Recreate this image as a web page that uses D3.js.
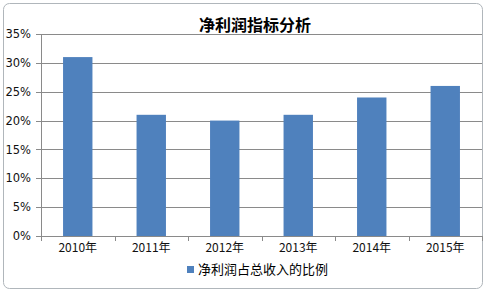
<!DOCTYPE html>
<html>
<head>
<meta charset="utf-8">
<script src="https://cdn.jsdelivr.net/npm/d3@7"></script>
<style>
body { margin: 0; background: #fff; }
.axis path { display: none; }
.axis text { font-family: "DejaVu Sans", sans-serif; font-size: 11px; fill: #111; }
</style>
</head>
<body>
<svg id="vis" width="486" height="294"></svg>
<script>
var years = ["2010年", "2011年", "2012年", "2013年", "2014年", "2015年"];
var ratio = [31, 21, 20, 21, 24, 26];
var yTicks = [0, 5, 10, 15, 20, 25, 30, 35];
var chartTitle = "净利润指标分析";
var legendLabel = "净利润占总收入的比例";

var svg = d3.select("#vis");
var plot = {left: 41, right: 482, top: 34, bottom: 236};

// frame
svg.append("rect")
  .attr("x", 3.5).attr("y", 3.5)
  .attr("width", 479).attr("height", 285)
  .attr("rx", 6)
  .style("fill", "#fff")
  .style("stroke", "#b0b6bb");

svg.append("text")
  .attr("x", 255).attr("y", 31)
  .attr("text-anchor", "middle")
  .style("font-family", "'Noto Sans CJK SC', sans-serif")
  .style("font-weight", "bold")
  .style("font-size", "16px")
  .text(chartTitle);

var x = d3.scaleBand()
  .domain(years)
  .range([plot.left, plot.right])
  .paddingInner(0.6)
  .paddingOuter(0.3);

var y = d3.scaleLinear()
  .domain([0, 35])
  .range([plot.bottom, plot.top]);

// grid
svg.append("g")
  .selectAll("line")
  .data(yTicks)
  .enter().append("line")
    .attr("x1", plot.left - 5).attr("x2", plot.right)
    .attr("y1", d => Math.round(y(d)) + 0.5)
    .attr("y2", d => Math.round(y(d)) + 0.5)
    .style("stroke", "#8a8a8a");

svg.append("line")
  .attr("x1", plot.left + 0.5).attr("x2", plot.left + 0.5)
  .attr("y1", plot.top).attr("y2", plot.bottom)
  .style("stroke", "#8a8a8a");

svg.append("g")
  .attr("class", "axis")
  .attr("transform", `translate(${plot.left - 5}, 0)`)
  .call(d3.axisLeft(y).tickValues(yTicks).tickSize(0).tickPadding(5)
    .tickFormat(d => d + "%"))
  .selectAll("text").style("font-size", "11.5px");

// x ticks between categories
svg.append("g")
  .selectAll("line")
  .data(d3.range(years.length + 1))
  .enter().append("line")
    .attr("x1", i => Math.round(plot.left + i * (plot.right - plot.left) / years.length) + 0.5)
    .attr("x2", i => Math.round(plot.left + i * (plot.right - plot.left) / years.length) + 0.5)
    .attr("y1", plot.bottom).attr("y2", plot.bottom + 5)
    .style("stroke", "#8a8a8a");

svg.append("g")
  .attr("class", "axis")
  .attr("transform", `translate(0, ${plot.bottom + 4})`)
  .call(d3.axisBottom(x).tickSize(0).tickPadding(3))
  .selectAll("text")
    .style("font-family", "'Noto Sans CJK SC', sans-serif")
    .style("font-size", "12px");

svg.append("g")
  .selectAll("rect")
  .data(ratio)
  .enter().append("rect")
    .attr("x", (d, i) => x(years[i]))
    .attr("y", d => y(d))
    .attr("width", x.bandwidth())
    .attr("height", d => y(0) - y(d))
    .style("fill", "#4f81bd");

// legend
var lg = svg.append("g").attr("transform", "translate(187, 266)");
lg.append("rect")
  .attr("width", 7).attr("height", 7)
  .style("fill", "#4f81bd");
lg.append("text")
  .attr("x", 11).attr("y", 8)
  .style("font-family", "'Noto Sans CJK SC', sans-serif")
  .style("font-size", "13px")
  .text(legendLabel);
</script>
</body>
</html>
